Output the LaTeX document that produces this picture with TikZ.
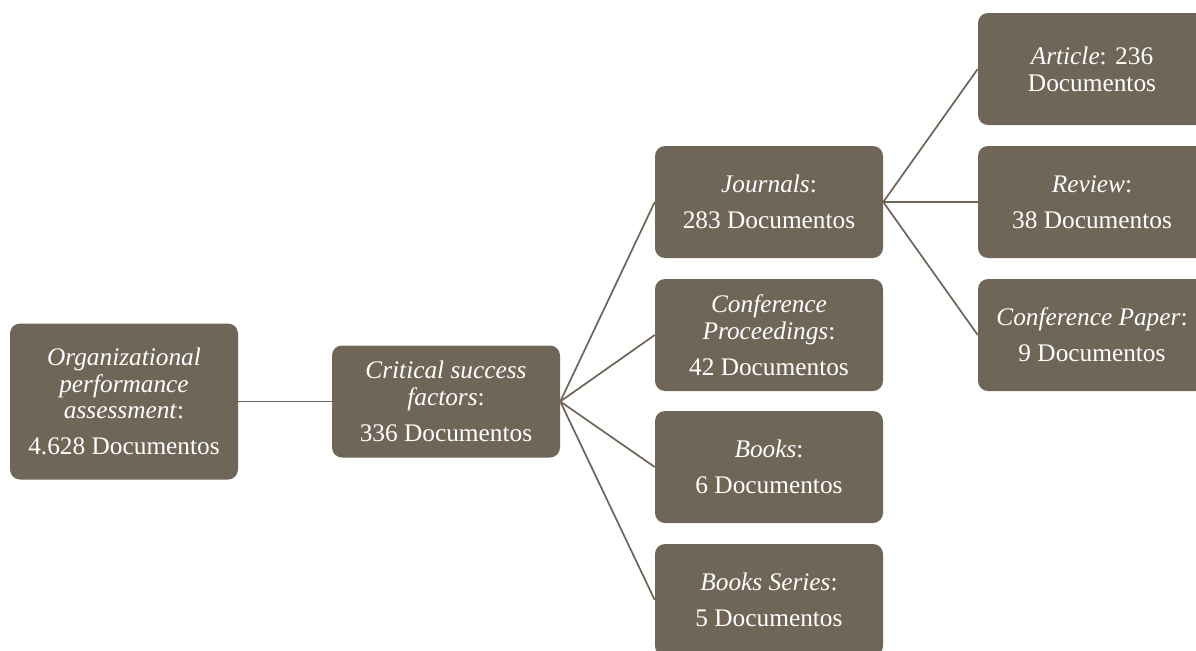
\documentclass[tikz,border=0pt]{standalone}
\usepackage{fontspec}
\setmainfont{Liberation Serif}
\definecolor{boxc}{RGB}{111,102,88}
\begin{document}
\begin{tikzpicture}[x=0.75pt,y=-0.75pt,
  box/.style={fill=boxc, rounded corners=7.5pt, text=white, align=center,
    minimum width=171pt, minimum height=84pt, inner sep=2pt,
    font=\fontsize{19}{20}\selectfont},
  tall/.style={minimum height=117pt},
  link/.style={draw=boxc, line width=1.3pt}]
\clip (0,0) rectangle (1196,650);
\node[box,tall] (b1) at (124,401.5) {\textit{Organizational}\\\textit{performance}\\\textit{assessment}:\\[7pt]4.628 Documentos};
\node[box] (b2) at (446,401.5) {\textit{Critical success}\\\textit{factors}:\\[7pt]336 Documentos};
\node[box] (j) at (769,202) {\textit{Journals}:\\[7pt]283 Documentos};
\node[box] (cp) at (769,335) {\textit{Conference}\\\textit{Proceedings}:\\[7pt]42 Documentos};
\node[box] (bk) at (769,467) {\textit{Books}:\\[7pt]6 Documentos};
\node[box] (bs) at (769,600) {\textit{Books Series}:\\[7pt]5 Documentos};
\node[box] (ar) at (1092,69) {\textit{Article}: 236\\Documentos};
\node[box] (rv) at (1092,202) {\textit{Review}:\\[7pt]38 Documentos};
\node[box] (cpp) at (1092,335) {\textit{Conference Paper}:\\[7pt]9 Documentos};
\draw[link] (b1.east) -- (b2.west);
\foreach \t in {j,cp,bk,bs} \draw[link] (b2.east) -- (\t.west);
\foreach \t in {ar,rv,cpp} \draw[link] (j.east) -- (\t.west);
\end{tikzpicture}
\end{document}
